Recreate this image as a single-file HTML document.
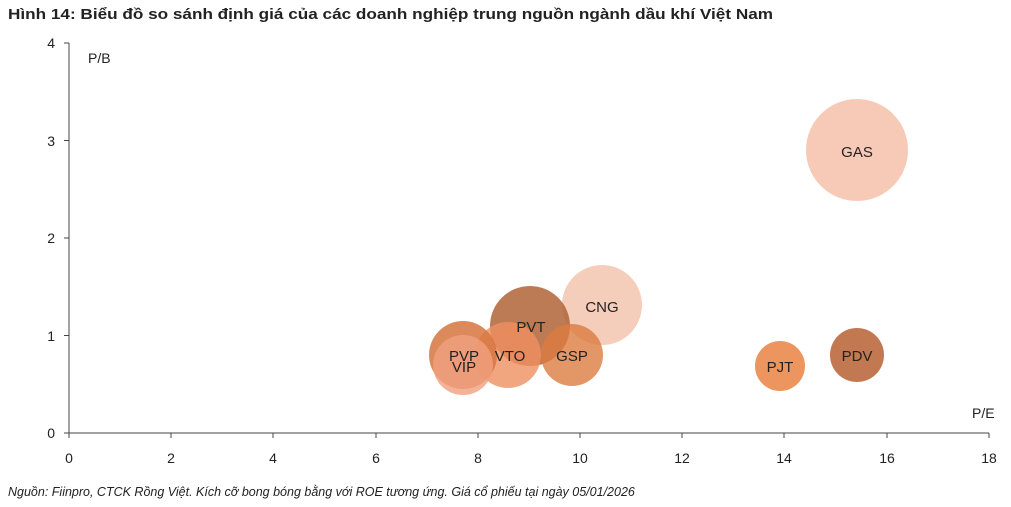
<!DOCTYPE html>
<html><head><meta charset="utf-8"><style>
body{margin:0;background:#fff;width:1011px;height:507px;overflow:hidden}
svg{display:block}
text{font-family:"Liberation Sans",sans-serif}
</style></head><body>
<svg width="1011" height="507" viewBox="0 0 1011 507">
<text x="8" y="19" font-size="15" font-weight="bold" fill="#222" textLength="765" lengthAdjust="spacingAndGlyphs">Hình 14: Biểu đồ so sánh định giá của các doanh nghiệp trung nguồn ngành dầu khí Việt Nam</text>
<g stroke="#444" stroke-width="1">
<line x1="69" y1="43" x2="69" y2="433"/>
<line x1="69" y1="433" x2="989" y2="433"/>
<line x1="64" y1="43" x2="69" y2="43"/><line x1="64" y1="140.5" x2="69" y2="140.5"/><line x1="64" y1="238" x2="69" y2="238"/><line x1="64" y1="335.5" x2="69" y2="335.5"/><line x1="64" y1="433" x2="69" y2="433"/>
<line x1="69" y1="433" x2="69" y2="438"/><line x1="171" y1="433" x2="171" y2="438"/><line x1="273" y1="433" x2="273" y2="438"/><line x1="376" y1="433" x2="376" y2="438"/><line x1="478" y1="433" x2="478" y2="438"/><line x1="580" y1="433" x2="580" y2="438"/><line x1="682" y1="433" x2="682" y2="438"/><line x1="784" y1="433" x2="784" y2="438"/><line x1="887" y1="433" x2="887" y2="438"/><line x1="989" y1="433" x2="989" y2="438"/>
</g>
<g font-size="14" fill="#222" text-anchor="end">
<text x="55" y="48">4</text><text x="55" y="146">3</text><text x="55" y="243">2</text><text x="55" y="341">1</text><text x="55" y="438">0</text>
</g>
<g font-size="14" fill="#222" text-anchor="middle">
<text x="69" y="463">0</text><text x="171" y="463">2</text><text x="273" y="463">4</text><text x="376" y="463">6</text><text x="478" y="463">8</text><text x="580" y="463">10</text><text x="682" y="463">12</text><text x="784" y="463">14</text><text x="887" y="463">16</text><text x="989" y="463">18</text>
</g>
<text x="88" y="63" font-size="14" fill="#222">P/B</text>
<text x="972" y="418" font-size="14" fill="#222">P/E</text>
<g>
<circle cx="857" cy="150" r="51" fill="#f5c4ae" opacity="0.9"/>
<circle cx="602" cy="305" r="40" fill="#f2c0aa" opacity="0.8"/>
<circle cx="530" cy="326" r="40" fill="#b06436" opacity="0.85"/>
<circle cx="572" cy="355" r="31" fill="#dc7c40" opacity="0.8"/>
<circle cx="508" cy="355" r="33" fill="#ef9060" opacity="0.8"/>
<circle cx="463" cy="355" r="34" fill="#d6763f" opacity="0.85"/>
<circle cx="463" cy="365" r="30" fill="#f0a080" opacity="0.8"/>
<circle cx="780" cy="366" r="25" fill="#ea8a4c" opacity="0.9"/>
<circle cx="857" cy="355" r="27" fill="#bb6a3e" opacity="0.9"/>
</g>
<g font-size="15" fill="#222" text-anchor="middle">
<text x="857" y="157">GAS</text>
<text x="602" y="312">CNG</text>
<text x="531" y="332">PVT</text>
<text x="572" y="361">GSP</text>
<text x="510" y="361">VTO</text>
<text x="464" y="361">PVP</text>
<text x="464" y="372">VIP</text>
<text x="780" y="372">PJT</text>
<text x="857" y="361">PDV</text>
</g>
<text x="8" y="496" font-size="12.5" font-style="italic" fill="#222">Nguồn: Fiinpro, CTCK Rồng Việt. Kích cỡ bong bóng bằng với ROE tương ứng. Giá cổ phiếu tại ngày 05/01/2026</text>
</svg>
</body></html>
